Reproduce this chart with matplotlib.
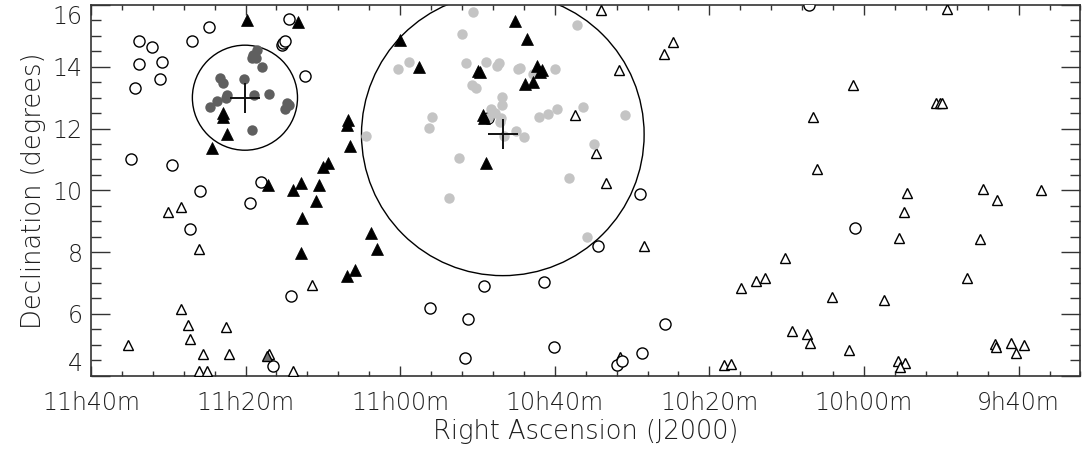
import matplotlib
matplotlib.use('Agg')
import matplotlib.pyplot as plt
from matplotlib.patches import Ellipse
from matplotlib.ticker import MultipleLocator, FixedLocator

# positions in degrees (RA, Dec)
field_circ_ra = [173.44, 173.01, 173.46, 172.71, 173.58, 172.77, 171.73, 171.19, 168.61,
                 168.83, 168.78, 168.73, 168.08, 173.72, 172.39, 171.48, 169.50, 169.86,
                 171.80, 168.52, 169.11, 162.17, 157.23, 158.59, 162.28, 160.35, 164.04,
                 162.80, 156.43, 160.04, 162.90, 157.19, 158.00, 157.81, 151.79, 150.29]
field_circ_dec = [14.83, 14.63, 14.08, 14.16, 13.33, 13.59, 14.84, 15.29, 15.54,
                  14.70, 14.76, 14.83, 13.71, 11.02, 10.82, 9.99, 10.26, 9.60,
                  8.74, 6.58, 4.32, 12.33, 9.87, 8.21, 6.91, 7.04, 6.18,
                  5.84, 5.66, 4.92, 4.58, 4.74, 4.35, 4.48, 16.00, 8.79]

field_tri_ra = [172.52, 172.10, 171.51, 172.10, 171.85, 171.79, 173.81, 170.63, 171.39,
                170.53, 171.50, 171.26, 169.24, 168.48, 167.86, 158.52, 156.17, 156.47,
                157.92, 159.36, 158.67, 158.33, 157.12, 157.90, 147.32, 150.37, 147.66,
                147.55, 147.48, 151.65, 151.52, 148.62, 146.15, 145.70, 144.26, 148.70,
                148.87, 146.24, 152.57, 153.50, 153.21, 153.99, 146.68, 151.03, 149.34,
                152.33, 151.85, 151.76, 150.49, 145.77, 145.72, 145.23, 144.84, 145.09,
                154.53, 154.29, 148.90, 148.68, 148.82]
field_tri_dec = [9.31, 9.45, 8.11, 6.15, 5.65, 5.18, 4.98, 5.57, 4.69,
                 4.69, 4.15, 4.15, 4.70, 4.14, 6.94, 15.83, 14.81, 14.41,
                 13.89, 12.44, 11.22, 10.25, 8.21, 4.60, 15.86, 13.41, 12.82,
                 12.82, 12.82, 12.36, 10.69, 9.92, 10.06, 9.70, 10.01, 9.31,
                 8.45, 8.41, 7.80, 7.06, 7.15, 6.85, 7.17, 6.56, 6.45,
                 5.44, 5.36, 5.05, 4.83, 5.03, 4.92, 5.07, 4.99, 4.74,
                 4.35, 4.38, 4.49, 4.42, 4.29]

shade_tri_ra = [169.32]
shade_tri_dec = [4.65]

solid_tri_ra = [169.95, 168.30, 170.72, 170.72, 170.59, 171.10, 166.68, 166.73, 166.63,
                167.33, 167.49, 169.27, 168.21, 168.48, 167.62, 167.73, 168.17, 168.21,
                166.73, 166.46, 165.95, 165.74, 164.99, 164.39, 162.48, 162.41, 162.32,
                162.28, 162.24, 161.29, 160.89, 160.59, 160.40, 160.48, 160.97, 160.70]
solid_tri_dec = [15.53, 15.46, 12.52, 12.38, 11.82, 11.38, 12.28, 12.11, 11.44,
                 10.87, 10.76, 10.17, 10.25, 10.01, 10.17, 9.65, 9.09, 7.96,
                 7.23, 7.42, 8.63, 8.09, 14.86, 14.00, 13.87, 13.84, 12.44,
                 12.33, 10.87, 15.49, 14.90, 14.02, 13.89, 13.84, 13.44, 13.51]

group1_ra = [169.64, 169.75, 169.67, 169.80, 169.46, 170.83, 170.74, 170.05, 170.59,
             170.64, 170.92, 171.15, 169.73, 169.25, 168.65, 168.73, 168.60, 169.80]
group1_dec = [14.54, 14.38, 14.27, 14.27, 13.99, 13.64, 13.46, 13.60, 13.08,
              12.98, 12.90, 12.71, 13.08, 13.11, 12.82, 12.65, 12.76, 11.96]

group2_ra = [162.64, 163.01, 164.71, 165.06, 162.88, 162.21, 161.88, 161.80, 162.69,
             162.56, 161.72, 161.72, 162.05, 161.94, 162.15, 161.75, 161.78, 163.98,
             164.06, 163.09, 161.63, 161.18, 161.12, 160.72, 159.98, 159.28, 160.51,
             160.21, 159.92, 159.09, 157.73, 161.24, 161.00, 158.73, 166.11, 159.54,
             163.43, 158.95]
group2_dec = [15.78, 15.05, 14.16, 13.92, 14.13, 14.14, 14.03, 14.12, 13.41,
              13.30, 13.01, 12.75, 12.65, 12.49, 12.33, 12.33, 12.22, 12.36,
              12.03, 11.06, 11.76, 13.92, 13.95, 13.76, 13.92, 15.36, 12.36,
              12.47, 12.64, 12.71, 12.45, 11.93, 11.72, 11.50, 11.77, 10.39,
              9.74, 8.48]

# group centres and radii (deg)
centre_ra = [170.02, 161.68]
centre_dec = [13.00, 11.81]
radius = [1.70, 4.57]

ra_ticks = [175, 170, 165, 160, 155, 150, 145]
ra_labels = ['11h40m', '11h20m', '11h00m', '10h40m', '10h20m', '10h00m', '9h40m']
dec_ticks = [4, 6, 8, 10, 12, 14, 16]

plt.rcParams['font.family'] = ['DejaVu Sans']
plt.rcParams['font.weight'] = 'light'
plt.rcParams['axes.labelweight'] = 'light'
txt_col = '#1e1e1e'

fig = plt.figure(figsize=(10.84, 4.53), dpi=100)
ax = fig.add_axes([0.0839, 0.1706, 0.9128, 0.8183])

for cr, cd, r in zip(centre_ra, centre_dec, radius):
    ax.add_patch(Ellipse((cr, cd), 2 * r, 2 * r, fill=False, ec='black', lw=1.0, zorder=2))

ax.plot(field_tri_ra, field_tri_dec, ls='none', marker='^', ms=7.5, mfc='white',
        mec='black', mew=1.0, zorder=3)
ax.plot(shade_tri_ra, shade_tri_dec, ls='none', marker='^', ms=7.5, mfc='#707070',
        mec='black', mew=1.0, zorder=3)
ax.plot(field_circ_ra, field_circ_dec, ls='none', marker='o', ms=8, mfc='white',
        mec='black', mew=1.0, zorder=3)
ax.plot(group1_ra, group1_dec, ls='none', marker='o', ms=7.5, mfc='#5f5f5f',
        mec='#5f5f5f', mew=0, zorder=4)
ax.plot(group2_ra, group2_dec, ls='none', marker='o', ms=7.5, mfc='#c4c4c4',
        mec='#c4c4c4', mew=0, zorder=4)
ax.plot(solid_tri_ra, solid_tri_dec, ls='none', marker='^', ms=9, mfc='black',
        mec='black', mew=0.5, zorder=5)
ax.plot(centre_ra, centre_dec, ls='none', marker='+', ms=21, mew=1.4, color='#111111', zorder=6)

ax.set_xlim(175, 143)
ax.set_ylim(4, 16)

ax.xaxis.set_major_locator(FixedLocator(ra_ticks))
ax.xaxis.set_minor_locator(MultipleLocator(1))
ax.set_xticklabels(ra_labels)
ax.set_yticks(dec_ticks)
ax.yaxis.set_minor_locator(MultipleLocator(0.5))

ax.tick_params(axis='x', which='major', direction='in', length=7.5, width=1.0,
               top=True, bottom=True, pad=11, labelsize=17, labelcolor=txt_col, color='#333333')
ax.tick_params(axis='x', which='minor', direction='in', length=3.6, width=1.0,
               top=True, bottom=True, color='#333333')
ax.tick_params(axis='y', which='major', direction='in', length=13.5, width=1.0,
               left=True, right=True, pad=6, labelsize=17, labelcolor=txt_col, color='#333333')
ax.tick_params(axis='y', which='minor', direction='in', length=7, width=1.0,
               left=True, right=True, color='#333333')

ylabs = ax.get_yticklabels()
ylabs[0].set_va('bottom')
ylabs[-1].set_va('top')

for side in ax.spines.values():
    side.set_color('#333333')
    side.set_linewidth(1.2)

ax.set_xlabel('Right Ascension (J2000)', fontsize=18.5, color=txt_col, labelpad=3)
ax.set_ylabel('Declination (degrees)', fontsize=18.5, color=txt_col, labelpad=5)

fig.savefig('out.png', dpi=100)
